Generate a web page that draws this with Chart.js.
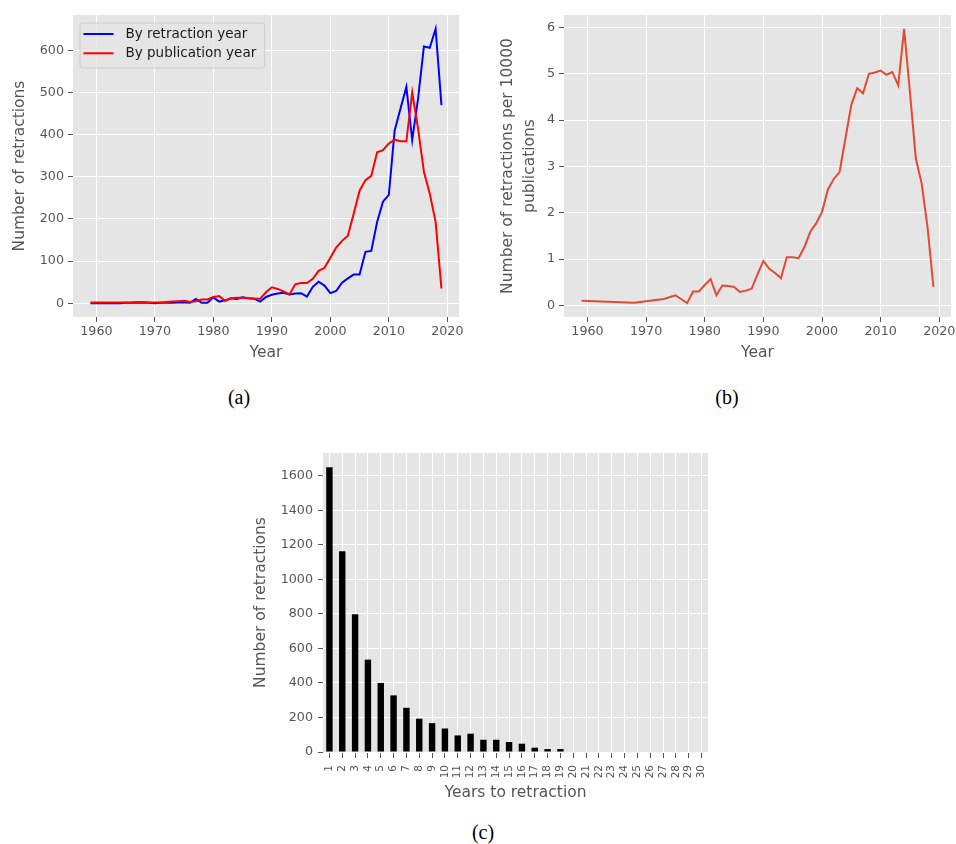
<!DOCTYPE html>
<html>
<head>
<meta charset="utf-8">
<title>Retractions</title>
<script src="https://cdn.jsdelivr.net/npm/chart.js@4.4.1/dist/chart.umd.min.js"></script>
<style>
  html, body { margin: 0; padding: 0; background: #fff; }
  #page { position: relative; width: 956px; height: 844px; overflow: hidden; }
  canvas { position: absolute; }
  .caption { position: absolute; width: 60px; text-align: center; font: 20px "Liberation Serif", serif; line-height: 20px; color: #000; }
</style>
</head>
<body>
<div id="page">
  <canvas id="chartA" width="476" height="370" style="left:0;top:0"></canvas>
  <canvas id="chartB" width="476" height="370" style="left:480px;top:0"></canvas>
  <canvas id="chartC" width="480" height="370" style="left:240px;top:440px"></canvas>
  <div class="caption" style="left:209px;top:387px">(a)</div>
  <div class="caption" style="left:697px;top:387px">(b)</div>
  <div class="caption" style="left:453px;top:822px">(c)</div>
</div>
<script>
// (a) retractions per year, 1959-2019
const years = [1959, 1960, 1961, 1962, 1963, 1964, 1965, 1966, 1967, 1968, 1969,
	1970, 1971, 1972, 1973, 1974, 1975, 1976, 1977, 1978, 1979,
	1980, 1981, 1982, 1983, 1984, 1985, 1986, 1987, 1988, 1989,
	1990, 1991, 1992, 1993, 1994, 1995, 1996, 1997, 1998, 1999,
	2000, 2001, 2002, 2003, 2004, 2005, 2006, 2007, 2008, 2009,
	2010, 2011, 2012, 2013, 2014, 2015, 2016, 2017, 2018, 2019];
const byRetractionYear = [0, 0, 0, 0, 0, 0, 1, 1, 1, 1, 1,
	0, 1, 1, 1, 2, 2, 1, 10, 1, 1,
	14, 4, 7, 12, 10, 14, 12, 11, 4, 15,
	20, 23, 25, 21, 23, 24, 16, 39, 51, 42,
	24, 29, 49, 59, 68, 68, 122, 124, 193, 241,
	257, 410, 462, 513, 387, 485, 609, 606, 651, 470];
const byPublicationYear = [2, 2, 2, 2, 2, 2, 2, 2, 3, 3, 2,
	2, 2, 3, 4, 5, 6, 3, 5, 9, 9,
	15, 17, 6, 12, 13, 13, 12, 11, 11, 26,
	38, 34, 28, 21, 45, 48, 48, 58, 77, 84,
	108, 132, 148, 160, 213, 267, 292, 302, 358, 363,
	379, 388, 384, 384, 500, 414, 312, 260, 193, 35];

// (b) retractions per 10000 publications
const rateYears = [1959, 1968, 1970, 1973, 1975, 1977, 1978, 1979, 1980, 1981, 1982,
	1983, 1984, 1985, 1986, 1987, 1988, 1989, 1990, 1991, 1992, 1993,
	1994, 1995, 1996, 1997, 1998, 1999, 2000, 2001, 2002, 2003, 2004,
	2005, 2006, 2007, 2008, 2009, 2010, 2011, 2012, 2013, 2014, 2015,
	2016, 2017, 2018, 2019];
const ratePer10000 = [0.10, 0.06, 0.09, 0.14, 0.22, 0.05, 0.30, 0.30, 0.44, 0.57, 0.22,
	0.43, 0.42, 0.40, 0.29, 0.32, 0.36, 0.67, 0.96, 0.79, 0.70, 0.59,
	1.04, 1.04, 1.02, 1.26, 1.59, 1.77, 2.02, 2.50, 2.73, 2.88, 3.61,
	4.33, 4.69, 4.58, 5.00, 5.03, 5.07, 4.98, 5.04, 4.75, 5.97, 4.60,
	3.17, 2.63, 1.69, 0.40];

// (c) years between publication and retraction
const delayYears = ['1', '2', '3', '4', '5', '6', '7', '8', '9', '10',
	'11', '12', '13', '14', '15', '16', '17', '18', '19', '20',
	'21', '22', '23', '24', '25', '26', '27', '28', '29', '30'];
const delayCounts = [1650, 1163, 798, 535, 400, 328, 256, 193, 167, 136,
	96, 106, 71, 71, 58, 48, 25, 17, 17, 0,
	0, 0, 0, 0, 0, 0, 0, 0, 0, 0];

// tick labels
const yearTicks = [1960, 1970, 1980, 1990, 2000, 2010, 2020];
const countTicks = [0, 100, 200, 300, 400, 500, 600];
const rateTicks = [0, 1, 2, 3, 4, 5, 6];
const delayCountTicks = [0, 200, 400, 600, 800, 1000, 1200, 1400, 1600];

const GREY = '#555555';
Chart.defaults.font.family = '"DejaVu Sans", sans-serif';
Chart.defaults.color = GREY;
Chart.defaults.animation = false;

// grey panel behind the plot, ggplot style
const panelBg = {
	id: 'panelBg',
	beforeDraw(chart) {
		const { ctx, chartArea: a } = chart;
		ctx.save();
		ctx.fillStyle = '#e5e5e5';
		ctx.fillRect(a.left, a.top, a.right - a.left, a.bottom - a.top);
		ctx.restore();
	}
};

// boxed legend in the upper left corner of the plot
const insideLegend = {
	id: 'insideLegend',
	afterDraw(chart) {
		const { ctx, chartArea: a } = chart;
		const sets = chart.data.datasets;
		ctx.save();
		ctx.font = '13.5px "DejaVu Sans"';
		const textW = Math.max(...sets.map(d => ctx.measureText(d.label).width));
		const x = a.left + 6.5, y = a.top + 7.5;
		const w = 4 + 30 + 12 + textW + 8, h = 45;
		ctx.beginPath();
		ctx.roundRect(x + 0.5, y + 0.5, w, h, 3);
		ctx.fillStyle = 'rgba(229,229,229,0.8)';
		ctx.fill();
		ctx.strokeStyle = '#cccccc';
		ctx.lineWidth = 1;
		ctx.stroke();
		ctx.textBaseline = 'middle';
		sets.forEach((d, i) => {
			const cy = y + 11.5 + i * 19.3;
			ctx.strokeStyle = d.borderColor;
			ctx.lineWidth = 2;
			ctx.beginPath();
			ctx.moveTo(x + 4, cy);
			ctx.lineTo(x + 34, cy);
			ctx.stroke();
			ctx.fillStyle = '#1a1a1a';
			ctx.fillText(d.label, x + 46, cy + 0.5);
		});
		ctx.restore();
	}
};

function linearAxis(ticks, title, o) {
	return {
		type: 'linear',
		min: o.min,
		max: o.max,
		afterBuildTicks: ax => { ax.ticks = ticks.map(v => ({ value: v })); },
		afterFit: ax => {
			if (o.width) ax.width = o.width;
			if (o.height) ax.height = o.height;
			ax.paddingLeft = ax.paddingRight = ax.paddingTop = ax.paddingBottom = 0;
		},
		grid: { color: '#ffffff', lineWidth: 1, tickLength: 5, tickColor: GREY, tickWidth: 1 },
		border: { display: false },
		ticks: { font: { size: 12.7 }, color: GREY, padding: o.pad, maxRotation: 0, autoSkip: false, callback: v => String(v) },
		title: { display: true, text: title, color: GREY, font: { size: 15.5, lineHeight: o.lh || 1.2 }, padding: o.titlePad }
	};
}

const quiet = { legend: { display: false }, tooltip: { enabled: false } };

new Chart(document.getElementById('chartA'), {
	type: 'line',
	data: {
		datasets: [
			{
				label: 'By retraction year',
				data: years.map((yr, i) => ({ x: yr, y: byRetractionYear[i] })),
				borderColor: '#0000ff',
				borderWidth: 2,
				pointRadius: 0,
				tension: 0,
				order: 1,
			},
			{
				label: 'By publication year',
				data: years.map((yr, i) => ({ x: yr, y: byPublicationYear[i] })),
				borderColor: '#ff0000',
				borderWidth: 2,
				pointRadius: 0,
				tension: 0,
				order: 0,
			},
		],
	},
	options: {
		responsive: false,
		events: [],
		layout: { padding: { left: 0, top: 15, right: 17, bottom: 0 } },
		plugins: quiet,
		scales: {
			x: linearAxis(yearTicks, 'Year', { min: 1956, max: 2022, height: 53, pad: 2.4, titlePad: { top: 0, bottom: 7.7 } }),
			y: linearAxis(countTicks, 'Number of retractions', { min: -32.55, max: 683.55, width: 73, pad: 4, titlePad: { top: 10.7, bottom: 0 } }),
		},
	},
	plugins: [panelBg, insideLegend],
});

new Chart(document.getElementById('chartB'), {
	type: 'line',
	data: {
		datasets: [{
			label: 'Retractions per 10000 publications',
			data: rateYears.map((yr, i) => ({ x: yr, y: ratePer10000[i] })),
			borderColor: '#e24a33',
			borderWidth: 2,
			pointRadius: 0,
			tension: 0,
		}],
	},
	options: {
		responsive: false,
		events: [],
		layout: { padding: { left: 0, top: 15, right: 5, bottom: 0 } },
		plugins: quiet,
		scales: {
			x: linearAxis(yearTicks, 'Year', { min: 1956, max: 2022, height: 53, pad: 2.4, titlePad: { top: 0, bottom: 7.7 } }),
			y: linearAxis(rateTicks, ['Number of retractions per 10000', 'publications'],
				{ min: -0.25, max: 6.27, width: 84, pad: 4, lh: 1.42, titlePad: { top: 17, bottom: 0 } }),
		},
	},
	plugins: [panelBg],
});

new Chart(document.getElementById('chartC'), {
	type: 'bar',
	data: {
		labels: delayYears,
		datasets: [{
			label: 'Number of retractions',
			data: delayCounts,
			backgroundColor: '#000000',
			barPercentage: 0.5,
			categoryPercentage: 1.0,
		}],
	},
	options: {
		responsive: false,
		events: [],
		layout: { padding: { left: 0, top: 13, right: 12, bottom: 0 } },
		plugins: quiet,
		scales: {
			x: {
				type: 'category',
				offset: true,
				afterFit: ax => { ax.height = 58; ax.paddingLeft = 0; ax.paddingRight = 0; },
				grid: { color: '#ffffff', offset: false, tickLength: 6, tickColor: GREY },
				border: { display: false },
				ticks: { font: { size: 10.5 }, color: GREY, minRotation: 90, maxRotation: 90, autoSkip: false, padding: 7 },
				title: { display: true, text: 'Years to retraction', color: GREY, font: { size: 15.5 }, padding: { top: 0, bottom: 8 } },
			},
			y: linearAxis(delayCountTicks, 'Number of retractions', { min: 0, max: 1732, width: 83, pad: 5, titlePad: { top: 11.4, bottom: 0 } }),
		},
	},
	plugins: [panelBg],
});
</script>
</body>
</html>
